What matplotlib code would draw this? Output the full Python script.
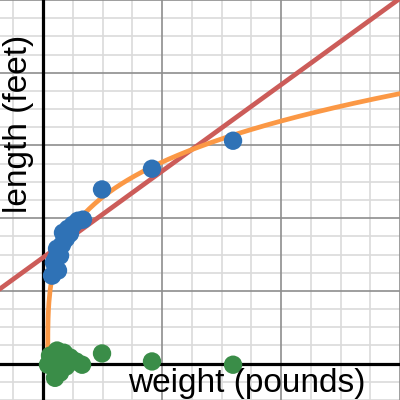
import numpy as np
import matplotlib
matplotlib.use("Agg")
import matplotlib.pyplot as plt

# ── DATA ──────────────────────────────────────────────────────────────────────
weight = [7.6, 12.6, 9.2, 14.3, 11.8, 16.0, 19.3, 16.8, 21.0, 25.2, 29.4, 33.6,
          22.7, 10.9, 49.6, 91.6, 159.7]
length = [2.42, 2.56, 2.78, 2.97, 3.16, 3.27, 3.44, 3.60, 3.71, 3.82, 3.93, 3.96,
          3.58, 2.89, 4.79, 5.36, 6.13]

resid_weight = [5.9, 11.8, 17.6, 22.7, 27.7, 32.8, 14.3, 10.1, 4.2, 19.3, 8.4,
                49.6, 91.6, 159.7]
resid_length = [0.22, 0.36, 0.30, 0.17, 0.06, -0.03, -0.25, -0.39, -0.03, -0.08,
                0.08, 0.28, 0.06, -0.03]

# linear fit  L = m*w + b
lin_m, lin_b = 0.02376, 2.916
# power fit   L = a*((w - w0)/100)^p
pow_a, pow_w0, pow_p = 5.60, 4.0, 0.26

# ── STYLE ─────────────────────────────────────────────────────────────────────
BLUE, GREEN = "#2f72b6", "#3a8d48"
RED, ORANGE = "#cc5c59", "#fb9845"

fig = plt.figure(figsize=(4, 4), dpi=100)
ax = fig.add_axes([0, 0, 1, 1])
ax.set_xlim(-43 / 119 * 100, 300)
ax.set_ylim(-1.0, 10.0)

# grid
for xv in np.arange(-25, 301, 25):
    major = xv % 100 == 0
    ax.axvline(xv, color="#8e8e8e" if major else "#dadada",
               lw=1.2, zorder=1 if major else 0)
for yv in np.arange(-1.0, 10.01, 0.5):
    major = abs(yv % 2) < 1e-9
    ax.axhline(yv, color="#8e8e8e" if major else "#dadada",
               lw=1.2, zorder=1 if major else 0)
ax.axvline(0, color="black", lw=2.3, zorder=2)
ax.axhline(0, color="black", lw=2.3, zorder=2)

# fitted curves
xs = np.linspace(-50, 310, 200)
ax.plot(xs, lin_m * xs + lin_b, color=RED, lw=3.4, zorder=3,
        solid_capstyle="butt")
xp = pow_w0 + np.concatenate([np.logspace(-8, 0, 200), np.linspace(1, 310, 300)])
ax.plot(xp, pow_a * ((xp - pow_w0) / 100) ** pow_p, color=ORANGE, lw=3.4,
        zorder=4, solid_capstyle="butt")

# points
ax.scatter(weight, length, s=175, color=BLUE, edgecolors="none", zorder=5)
ax.scatter(resid_weight, resid_length, s=175, color=GREEN, edgecolors="none",
           zorder=6)

ax.set_xticks([])
ax.set_yticks([])
for sp in ax.spines.values():
    sp.set_visible(False)

fig.text(128 / 400, 1 - 392 / 400, "weight (pounds)", ha="left", va="baseline",
         fontsize=24, family="Liberation Sans")
fig.text(19 / 400, 1 - 124 / 400, "length (feet)", ha="center", va="center",
         rotation=90, fontsize=24, family="Liberation Sans")

fig.savefig("out.png", dpi=100)
